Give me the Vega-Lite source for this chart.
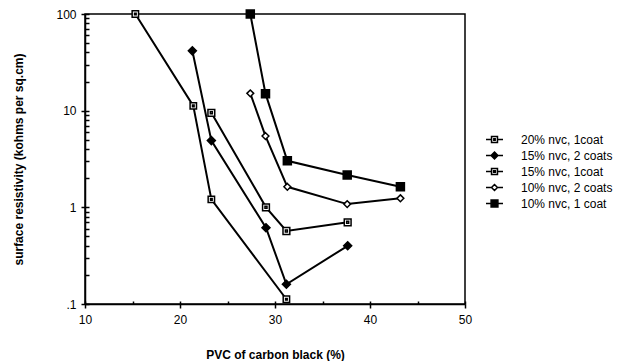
{
  "$schema": "https://vega.github.io/schema/vega-lite/v6.json",
  "width": 380,
  "height": 290,
  "autosize": {"type": "none"},
  "padding": {"left": 85, "top": 14, "right": 161, "bottom": 57},
  "background": "white",
  "config": {
    "view": {"stroke": "black", "strokeWidth": 1.5},
    "font": "Liberation Sans",
    "axis": {
      "domainColor": "black",
      "domainWidth": 1.5,
      "tickColor": "black",
      "tickWidth": 1.5,
      "labelColor": "black",
      "labelFont": "Liberation Sans",
      "labelFontSize": 12,
      "titleFont": "Liberation Sans",
      "titleFontSize": 12,
      "titleFontWeight": "bold",
      "titleColor": "black",
      "grid": false,
      "labelFlush": false,
      "labelOverlap": false
    },
    "legend": {
      "labelFont": "Liberation Sans",
      "labelFontSize": 12,
      "labelColor": "black"
    }
  },
  "data": {
    "values": [
      {"series": "20% nvc, 1coat", "pvc": 15.3, "res": 100},
      {"series": "20% nvc, 1coat", "pvc": 21.4, "res": 11.2},
      {"series": "20% nvc, 1coat", "pvc": 23.3, "res": 1.21},
      {"series": "20% nvc, 1coat", "pvc": 31.2, "res": 0.112},
      {"series": "15% nvc, 2 coats", "pvc": 21.3, "res": 41.6},
      {"series": "15% nvc, 2 coats", "pvc": 23.3, "res": 4.9},
      {"series": "15% nvc, 2 coats", "pvc": 29.05, "res": 0.615},
      {"series": "15% nvc, 2 coats", "pvc": 31.2, "res": 0.16},
      {"series": "15% nvc, 2 coats", "pvc": 37.65, "res": 0.4},
      {"series": "15% nvc, 1coat", "pvc": 23.3, "res": 9.5},
      {"series": "15% nvc, 1coat", "pvc": 29.05, "res": 1.0},
      {"series": "15% nvc, 1coat", "pvc": 31.2, "res": 0.569},
      {"series": "15% nvc, 1coat", "pvc": 37.65, "res": 0.7},
      {"series": "10% nvc, 2 coats", "pvc": 27.4, "res": 15.1},
      {"series": "10% nvc, 2 coats", "pvc": 29.0, "res": 5.46},
      {"series": "10% nvc, 2 coats", "pvc": 31.3, "res": 1.63},
      {"series": "10% nvc, 2 coats", "pvc": 37.6, "res": 1.08},
      {"series": "10% nvc, 2 coats", "pvc": 43.2, "res": 1.24},
      {"series": "10% nvc, 1 coat", "pvc": 27.4, "res": 100},
      {"series": "10% nvc, 1 coat", "pvc": 29.0, "res": 15},
      {"series": "10% nvc, 1 coat", "pvc": 31.3, "res": 3.03},
      {"series": "10% nvc, 1 coat", "pvc": 37.6, "res": 2.16},
      {"series": "10% nvc, 1 coat", "pvc": 43.2, "res": 1.63}
    ]
  },
  "layer": [
    {
      "mark": {"type": "line", "color": "black", "strokeWidth": 2},
      "encoding": {
        "x": {
          "field": "pvc",
          "type": "quantitative",
          "scale": {"domain": [10, 50], "nice": false, "zero": false},
          "axis": {
            "orient": "bottom",
            "title": "PVC of carbon black (%)",
            "values": [10, 20, 30, 40, 50],
            "tickSize": 4,
            "labelPadding": 6,
            "titlePadding": 24
          }
        },
        "y": {
          "field": "res",
          "type": "quantitative",
          "scale": {"type": "log", "domain": [0.1, 100], "nice": false},
          "axis": {
            "orient": "left",
            "title": "surface resistivity (kohms per sq.cm)",
            "values": [0.1, 1, 10, 100],
            "labelExpr": "datum.value == 0.1 ? '.1' : (datum.value + '')",
            "tickSize": 4,
            "labelPadding": 5,
            "titlePadding": 30
          }
        },
        "detail": {"field": "series", "type": "nominal"},
        "order": {"field": "pvc", "type": "quantitative"}
      }
    },
    {
      "mark": {"type": "point", "filled": true, "stroke": "black", "strokeWidth": 1.5, "size": 64, "opacity": 1},
      "encoding": {
        "x": {
          "field": "pvc",
          "type": "quantitative",
          "axis": {
            "orient": "bottom",
            "title": null,
            "values": [10, 15, 20, 25, 30, 35, 40, 45, 50],
            "labels": false,
            "domain": false,
            "tickSize": -3
          }
        },
        "y": {
          "field": "res",
          "type": "quantitative",
          "axis": {
            "orient": "left",
            "title": null,
            "values": [0.1, 0.2, 0.3, 0.4, 0.5, 0.6, 0.7, 0.8, 0.9, 1, 2, 3, 4, 5, 6, 7, 8, 9, 10, 20, 30, 40, 50, 60, 70, 80, 90, 100],
            "labels": false,
            "domain": false,
            "tickSize": -4
          }
        },
        "shape": {
          "field": "series",
          "type": "nominal",
          "scale": {
            "domain": ["20% nvc, 1coat", "15% nvc, 2 coats", "15% nvc, 1coat", "10% nvc, 2 coats", "10% nvc, 1 coat"],
            "range": [
              "M-0.8,-0.8H0.8V0.8H-0.8ZM-0.2,-0.2H0.2V0.2H-0.2Z",
              "M0,-1L1,0L0,1L-1,0Z",
              "M-0.85,-0.85H0.85V0.85H-0.85ZM-0.25,-0.25H0.25V0.25H-0.25Z",
              "M0,-0.85L0.85,0L0,0.85L-0.85,0Z",
              "M-1,-1H1V1H-1Z"
            ]
          },
          "legend": null
        },
        "fill": {
          "field": "series",
          "type": "nominal",
          "scale": {
            "domain": ["20% nvc, 1coat", "15% nvc, 2 coats", "15% nvc, 1coat", "10% nvc, 2 coats", "10% nvc, 1 coat"],
            "range": ["white", "black", "white", "white", "black"]
          },
          "legend": null
        }
      }
    },
    {
      "transform": [{"filter": "datum.pvc < 0"}],
      "mark": {"type": "point", "filled": true, "stroke": "black", "strokeWidth": 1.5, "size": 289, "opacity": 1},
      "encoding": {
        "x": {"field": "pvc", "type": "quantitative", "axis": null},
        "y": {"field": "res", "type": "quantitative", "axis": null},
        "shape": {
          "field": "series",
          "type": "nominal",
          "scale": {
            "domain": ["20% nvc, 1coat", "15% nvc, 2 coats", "15% nvc, 1coat", "10% nvc, 2 coats", "10% nvc, 1 coat"],
            "range": [
              "M-1,0H-0.35M0.35,0H1M-0.35,-0.35H0.35V0.35H-0.35ZM-0.08,-0.08H0.08V0.08H-0.08Z",
              "M-1,0H-0.4M0.4,0H1M0,-0.4L0.4,0L0,0.4L-0.4,0Z",
              "M-1,0H-0.35M0.35,0H1M-0.35,-0.35H0.35V0.35H-0.35ZM-0.1,-0.1H0.1V0.1H-0.1Z",
              "M-1,0H-0.35M0.35,0H1M0,-0.35L0.35,0L0,0.35L-0.35,0Z",
              "M-1,0H-0.4M0.4,0H1M-0.4,-0.4H0.4V0.4H-0.4Z"
            ]
          },
          "legend": {
            "title": null,
            "orient": "none",
            "legendX": 400,
            "legendY": 116,
            "padding": 0,
            "symbolSize": 289,
            "labelOffset": 17,
            "rowPadding": 0,
            "encode": {
              "symbols": {
                "update": {
                  "stroke": {"value": "black"},
                  "strokeWidth": {"value": 1.5},
                  "opacity": {"value": 1}
                }
              }
            }
          }
        },
        "fill": {
          "field": "series",
          "type": "nominal",
          "scale": {
            "domain": ["20% nvc, 1coat", "15% nvc, 2 coats", "15% nvc, 1coat", "10% nvc, 2 coats", "10% nvc, 1 coat"],
            "range": ["white", "black", "white", "white", "black"]
          },
          "legend": {
            "title": null,
            "orient": "none",
            "legendX": 400,
            "legendY": 116,
            "padding": 0,
            "symbolSize": 289,
            "labelOffset": 17,
            "rowPadding": 0,
            "encode": {
              "symbols": {
                "update": {
                  "stroke": {"value": "black"},
                  "strokeWidth": {"value": 1.5},
                  "opacity": {"value": 1}
                }
              }
            }
          }
        }
      }
    }
  ],
  "resolve": {
    "scale": {"shape": "independent", "fill": "independent"},
    "axis": {"x": "independent", "y": "independent"}
  }
}
